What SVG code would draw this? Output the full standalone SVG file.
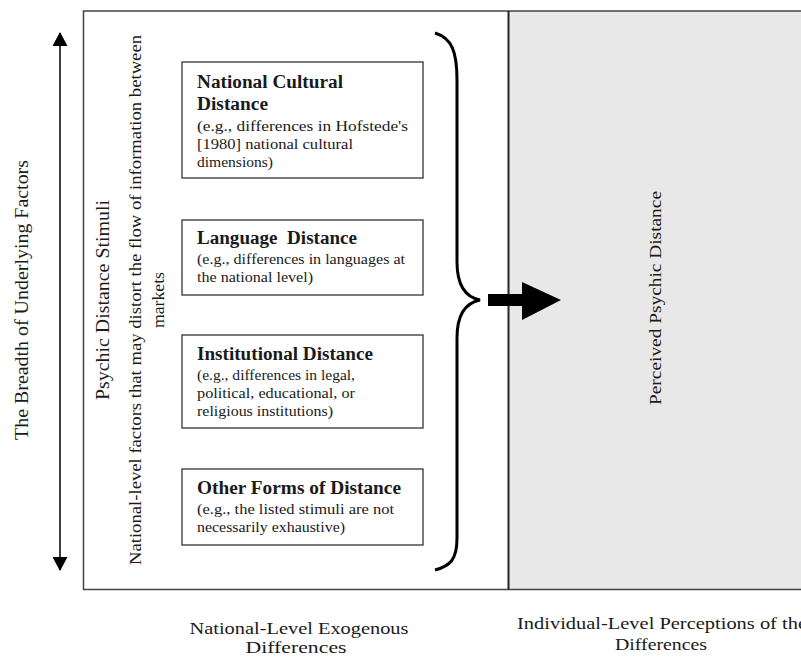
<svg xmlns="http://www.w3.org/2000/svg" width="801" height="658" viewBox="0 0 801 658">
<style>
text{font-family:"Liberation Serif","Times New Roman",serif;fill:#1a1a1a}
.t{font-size:18px;font-weight:bold}
.s{font-size:15px}
.lab{font-size:18px}
.bl{font-size:16.5px}
.box{fill:#fff;stroke:#333;stroke-width:1.3}
</style>
<defs>
<marker id="ah" markerWidth="14" markerHeight="15" refX="13" refY="7.5" orient="auto-start-reverse" markerUnits="userSpaceOnUse">
<path d="M0,0 L14,7.5 L0,15 Z" fill="#000"/>
</marker>
</defs>
<g id="frame">
<rect x="508.5" y="11" width="293" height="578.5" fill="#e8e8e8"/>
<path d="M801,11 H83.5 V589.5 H801" fill="none" stroke="#444" stroke-width="1.5"/>
<line x1="508.5" y1="11" x2="508.5" y2="589.5" stroke="#222" stroke-width="2"/>
</g>
<g id="breadth">
<text class="lab" transform="translate(28,300) rotate(-90)" text-anchor="middle" style="font-size:19.5px" textLength="280" lengthAdjust="spacingAndGlyphs">The Breadth of Underlying Factors</text>
</g>
<g id="stimuli">
<text class="lab" transform="translate(109,300) rotate(-90)" text-anchor="middle" textLength="200" lengthAdjust="spacingAndGlyphs">Psychic Distance Stimuli</text>
<text class="lab" transform="translate(141,300) rotate(-90)" text-anchor="middle" style="font-size:17px" textLength="530" lengthAdjust="spacingAndGlyphs">National-level factors that may distort the flow of information between</text>
<text class="lab" transform="translate(164,300) rotate(-90)" text-anchor="middle" style="font-size:17px" textLength="56" lengthAdjust="spacingAndGlyphs">markets</text>
</g>
<g id="n1">
<rect class="box" x="182" y="62" width="241" height="116"/>
<text class="t" x="197" y="88" textLength="146" lengthAdjust="spacingAndGlyphs">National Cultural</text>
<text class="t" x="197" y="110" textLength="71" lengthAdjust="spacingAndGlyphs">Distance</text>
<text class="s" x="197" y="131" textLength="211" lengthAdjust="spacingAndGlyphs">(e.g., differences in Hofstede's</text>
<text class="s" x="197" y="149" textLength="156" lengthAdjust="spacingAndGlyphs">[1980] national cultural</text>
<text class="s" x="197" y="167" textLength="76" lengthAdjust="spacingAndGlyphs">dimensions)</text>
</g>
<g id="n2">
<rect class="box" x="182" y="220" width="241" height="75"/>
<text class="t" x="197" y="244" xml:space="preserve" textLength="160" lengthAdjust="spacingAndGlyphs">Language  Distance</text>
<text class="s" x="197" y="264" textLength="208" lengthAdjust="spacingAndGlyphs">(e.g., differences in languages at</text>
<text class="s" x="197" y="282" textLength="116" lengthAdjust="spacingAndGlyphs">the national level)</text>
</g>
<g id="n3">
<rect class="box" x="182" y="335" width="241" height="93"/>
<text class="t" x="197" y="360" textLength="176" lengthAdjust="spacingAndGlyphs">Institutional Distance</text>
<text class="s" x="197" y="380" textLength="158" lengthAdjust="spacingAndGlyphs">(e.g., differences in legal,</text>
<text class="s" x="197" y="398" textLength="158" lengthAdjust="spacingAndGlyphs">political, educational, or</text>
<text class="s" x="197" y="416" textLength="136" lengthAdjust="spacingAndGlyphs">religious institutions)</text>
</g>
<g id="n4">
<rect class="box" x="182" y="469" width="241" height="76"/>
<text class="t" x="197" y="494" textLength="204" lengthAdjust="spacingAndGlyphs">Other Forms of Distance</text>
<text class="s" x="197" y="514" textLength="197" lengthAdjust="spacingAndGlyphs">(e.g., the listed stimuli are not</text>
<text class="s" x="197" y="532" textLength="148" lengthAdjust="spacingAndGlyphs">necessarily exhaustive)</text>
</g>
<g id="perceived">
<text class="lab" transform="translate(661,298) rotate(-90)" text-anchor="middle" style="font-size:17px" textLength="214" lengthAdjust="spacingAndGlyphs">Perceived Psychic Distance</text>
</g>
<g id="connectors">
<line x1="60" y1="33" x2="60" y2="570" stroke="#000" stroke-width="1.5" marker-start="url(#ah)" marker-end="url(#ah)"/>
<path d="M435,33 C452,38 457,52 457,80 L457,262 C457,285 465,297 480,300 C465,303 457,315 457,338 L457,538 C457,560 450,566 435,570" fill="none" stroke="#000" stroke-width="3"/>
<path d="M488,294 H522 V282 L561,300 L522,320 V306 H488 Z" fill="#000"/>
</g>
<g id="bottom">
<text class="bl" x="299" y="634" text-anchor="middle" textLength="219" lengthAdjust="spacingAndGlyphs">National-Level Exogenous</text>
<text class="bl" x="296" y="653" text-anchor="middle" textLength="101" lengthAdjust="spacingAndGlyphs">Differences</text>
<text class="bl" x="662" y="629" text-anchor="middle" textLength="290" lengthAdjust="spacingAndGlyphs">Individual-Level Perceptions of the</text>
<text class="bl" x="661" y="650" text-anchor="middle" textLength="92" lengthAdjust="spacingAndGlyphs">Differences</text>
</g>
</svg>
